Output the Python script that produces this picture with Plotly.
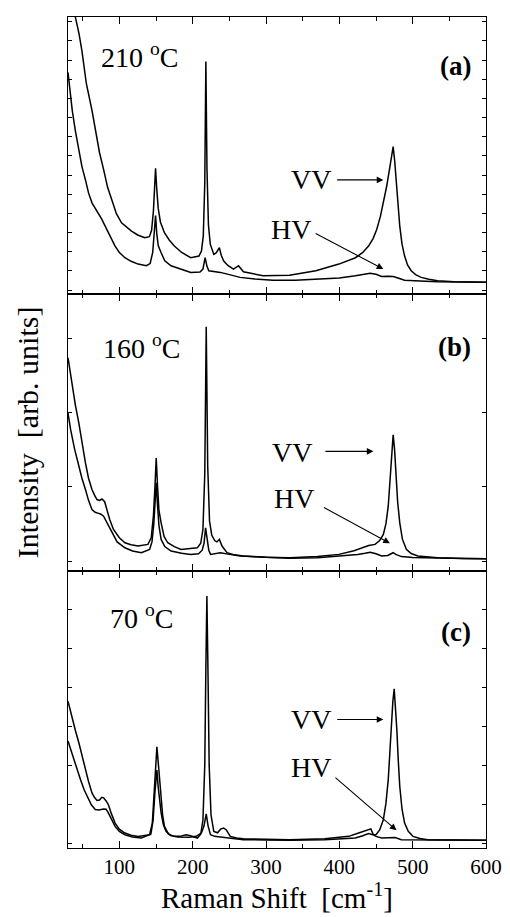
import plotly.graph_objects as go
from plotly.subplots import make_subplots

# ---------------- data (intensity in % of panel height) ----------------
# Panel (a) 210 C
x_a_vv = [30, 35, 40, 45, 49, 55, 62.7, 69.5, 73, 78.5, 84, 89.7, 96, 103, 110, 116.6, 125, 134.6, 141,
          144, 146.5, 148, 149.4, 151, 153, 156, 161.5, 168, 175, 185, 197.4, 208.6, 212, 214.5, 216.5,
          218, 219.5, 221.5, 224, 228.8, 232, 236.4, 239, 242.3, 248, 255.7, 262.5, 269.2, 280, 296,
          332, 368, 399.4, 422, 432, 439.8, 446, 451, 456, 460, 464.5, 469, 471.5, 473.4, 475.5, 477.9,
          480, 482.4, 485.5, 489, 493, 498, 504, 511.6, 522, 534, 556.5, 580, 600]
y_a_vv = [140, 125, 100, 94, 87.8, 76, 66.3, 56, 51, 45, 38.5, 34, 29, 25.7, 24, 22.7, 21.3, 20.3, 20.7,
          23, 30, 38, 45.4, 38, 31, 26, 22.1, 19.5, 17.3, 15, 13.1, 13.7, 15.5, 21, 40,
          83.9, 45, 25, 18, 14.3, 14.8, 16.7, 14, 11.9, 10.3, 9, 10.2, 8, 7.4, 6.6,
          6.8, 8.4, 10.8, 13.1, 15, 17.3, 20, 23.3, 28, 32.9, 38.8, 46, 50.5, 53.2, 48, 38.8,
          31, 24.5, 18, 13.7, 10.5, 8.4, 7, 6, 5.3, 4.8, 4.4, 4.3, 4.2]

x_a_hv = [30, 35.8, 40, 44.8, 49, 53.8, 58, 62.7, 67, 71.7, 76, 80.7, 87, 94.2, 100, 107.6, 116, 125.6,
          136.8, 142, 145.5, 147.5, 149.4, 151, 153, 157, 162, 170.5, 185, 197.4, 210, 214, 217,
          219.5, 222, 228, 237.8, 250, 264.7, 285, 309.6, 340, 377, 400, 422, 432, 442, 450, 457.7,
          466, 473.4, 480, 489, 510, 534, 570, 600]
y_a_hv = [80, 66.3, 59, 52, 46, 41.2, 36.5, 32.9, 31, 29.3, 27, 24.5, 21, 17.3, 15, 13.1, 11.8, 10.8,
          10.2, 11, 15, 21, 28.3, 22, 17.5, 14.9, 12, 10.2, 8.8, 7.8, 7.9, 9, 13.1,
          10, 8.4, 8.2, 7.8, 7, 6, 5.4, 5, 5, 5.4, 5.8, 6.6, 7.1, 7.5, 7.1, 6.3,
          6.4, 6.3, 5.8, 5, 4.7, 4.4, 4.3, 4.2]

# Panel (b) 160 C
x_b_vv = [30, 35.8, 40, 44.8, 49, 53.8, 58, 62.7, 66, 69.5, 73, 76.3, 80, 83, 87, 92, 100, 107.6, 116,
          125.6, 139, 143.5, 146.5, 148.5, 150.3, 152, 154, 157, 161, 166, 175, 184, 195, 206.4, 211,
          214, 216.5, 218.5, 220.5, 223, 226, 230, 233, 236.4, 240, 246.8, 255, 269, 300, 332, 370,
          399.4, 420, 431, 440, 448.7, 455, 460, 463.5, 466.7, 470.3, 473.4, 475.3, 477, 479.5, 482.4,
          486, 491.4, 498, 507, 520, 534, 570, 600]
y_b_vv = [77, 66.6, 60, 53.4, 46, 39, 33.5, 29.4, 27.5, 25.8, 25.5, 26, 25, 22.2, 18.5, 15, 12, 10.2, 9.5,
          9, 9.6, 12, 20, 30, 40.8, 31, 22, 17.4, 12.5, 10.2, 8.8, 7.8, 8, 8.4, 10,
          15, 35, 88.2, 38, 18, 13, 11, 10.5, 11.4, 9, 6.6, 6, 5.4, 5, 4.8, 5.2,
          6, 7.3, 8.4, 9.2, 9.6, 11, 13.2, 17, 23.4, 39, 49.2, 44, 34.2, 25, 17.4,
          11.5, 7.8, 6.3, 5.4, 5, 4.8, 4.5, 4.4]

x_b_hv = [30, 33.6, 39, 44.8, 49, 53.8, 58, 62.7, 67, 71.7, 75, 78.5, 84, 89.7, 97, 107.6, 118, 130,
          141.3, 144.5, 147, 148.8, 150.3, 152, 154, 157, 162, 170.5, 185, 197.4, 208, 213, 215.5,
          217.6, 219.8, 222, 224.3, 230, 237.8, 250, 264.7, 300, 332, 370, 399.4, 425, 435, 442,
          450, 457.7, 466, 470, 473.4, 477, 484.6, 500, 534, 570, 600]
y_b_hv = [57, 51, 44, 37.8, 33.5, 29.4, 25.5, 22.2, 21.2, 20.8, 20.5, 19.8, 17, 13.8, 10.5, 8.4, 7.2, 6.6,
          7.8, 10.5, 17, 25, 31.8, 24, 16.5, 11.4, 8.8, 7.2, 6.4, 6, 6.2, 7.5, 10,
          15.6, 11, 7.5, 6, 6.2, 6.6, 6, 5.4, 5, 4.6, 4.8, 5.4, 6, 6.4, 6.8,
          6.2, 5.4, 5.6, 6.2, 6.6, 6, 5.2, 4.9, 4.6, 4.5, 4.4]

# Panel (c) 70 C
x_c_vv = [30, 35.8, 40, 44.8, 49, 53.8, 58, 62.7, 66, 69.5, 73, 76, 78.5, 82, 85, 89, 94.2, 100, 107.6,
          116, 125.6, 141.3, 145, 147.5, 149.5, 151.2, 153, 155, 157, 159, 161.5, 167, 175, 183, 190.7,
          196, 206.4, 211, 214, 216.5, 218, 219.4, 220.8, 222.5, 225, 228.8, 234, 238, 242.3, 246,
          251.3, 260, 269.2, 300, 332, 380, 412.8, 426.3, 433, 439.8, 443, 446.5, 450, 455, 460,
          463.5, 466.7, 469, 471.2, 473, 474.8, 476.5, 478.4, 480.5, 482.4, 485.5, 489, 494, 500.4,
          510, 520.5, 560, 600]
y_c_vv = [53, 46.4, 42.5, 38, 33.5, 28.3, 24, 19.9, 18.3, 17.2, 17.3, 18.3, 18.1, 17, 15.7, 12.5, 9, 6.8, 5.4,
          4.6, 4.2, 4.8, 9, 20, 32, 36.5, 31, 24, 19.9, 12, 7.8, 5, 4.2, 4.2, 4.8,
          4.5, 3.6, 5, 10, 30, 65, 91, 65, 30, 12, 6, 5.5, 6.8, 7.2, 6.5,
          4.2, 3.6, 3.3, 3.1, 3, 3.3, 4.2, 5.4, 6, 6.6, 6.9, 4.8, 4.8, 6.5, 10.2,
          16, 24.7, 35, 46.4, 53, 57.5, 52, 42.8, 31, 22.3, 14, 9, 6, 4.2,
          3.4, 3, 2.9, 2.8]

x_c_hv = [30, 38, 42, 47, 52, 58.3, 62, 67.2, 72, 78.5, 82, 85, 89, 94.2, 100, 107.6, 118, 130,
          143, 146, 148.5, 151.2, 153, 155, 157, 160, 163.7, 170, 179.4, 195, 205, 212, 215.5, 218.5,
          221, 224.3, 230, 237.8, 250, 269.2, 300, 332, 380, 421.8, 432, 439.8, 446, 450, 457.7,
          466, 471.2, 476, 484.6, 520, 560, 600]
y_c_hv = [38.6, 31.9, 28, 24.7, 21, 17.5, 15.5, 13.9, 13.7, 14.1, 14, 12.7, 10.5, 7.8, 6, 4.8, 4, 3.6,
          5, 10, 20, 28.1, 22, 16, 12.7, 8.5, 6, 4.5, 4, 3.9, 4.2, 5.5, 8, 12.3,
          8, 4.8, 4.2, 4, 3.6, 3, 2.9, 2.8, 3, 3.6, 4.4, 5.2, 4.8, 4.2, 3.6,
          3.7, 4, 3.8, 3, 2.9, 2.8, 2.8]

x_range = [30, 600]
x_tick_vals = [100, 200, 300, 400, 500, 600]
x_minor_vals = [50, 150, 250, 350, 450, 550]
temps = ["210 <sup>o</sup>C", "160 <sup>o</sup>C", "70 <sup>o</sup>C"]
panel_tags = ["<b>(a)</b>", "<b>(b)</b>", "<b>(c)</b>"]

# ---------------- figure ----------------
FONT = "Liberation Serif, Times New Roman, serif"
fig = make_subplots(rows=3, cols=1, shared_xaxes=True, vertical_spacing=0)

series = [(x_a_vv, y_a_vv, x_a_hv, y_a_hv),
          (x_b_vv, y_b_vv, x_b_hv, y_b_hv),
          (x_c_vv, y_c_vv, x_c_hv, y_c_hv)]
for i, (xv, yv, xh, yh) in enumerate(series, start=1):
    fig.add_trace(go.Scatter(x=xv, y=yv, mode="lines", line=dict(color="black", width=1.5),
                             name="VV", showlegend=False), row=i, col=1)
    fig.add_trace(go.Scatter(x=xh, y=yh, mode="lines", line=dict(color="black", width=1.5),
                             name="HV", showlegend=False), row=i, col=1)

y_ticks = [(8.35, 6.92), (3.6, 26.8), (1.8, 14.05)]
for i in range(1, 4):
    fig.update_xaxes(range=x_range, showline=True, linecolor="black", linewidth=1.2, mirror="ticks",
                     ticks="inside", ticklen=7, tickwidth=1.2, tickcolor="black",
                     tickmode="array", tickvals=x_tick_vals,
                     minor=dict(ticks="inside", ticklen=4, tickwidth=1, tickcolor="black",
                                tickmode="array", tickvals=x_minor_vals),
                     showgrid=False, zeroline=False, showticklabels=(i == 3),
                     tickfont=dict(family=FONT, size=21, color="black"), row=i, col=1)
    t0, dt = y_ticks[i - 1]
    fig.update_yaxes(range=[0, 100], showline=True, linecolor="black", linewidth=1.2, mirror="ticks",
                     ticks="inside", ticklen=4, tickwidth=1, tickcolor="black",
                     tick0=t0, dtick=dt, showticklabels=False, showgrid=False, zeroline=False,
                     row=i, col=1)

ann = []
txt_pos = [((127, 86), (558, 82.4)), ((129.6, 80.9), (557, 80.9)), ((129.6, 83.4), (559, 77.8))]
vv_text = [(392, 41.2), (366, 42.7), (391, 46.4)]
hv_text = [(364, 23.3), (368, 26.2), (391, 29)]
vv_arrow = [((395, 41.2), (460, 41.2)), ((379, 43.2), (446.5, 43.2)), ((395, 46.4), (460, 46.4))]
hv_arrow = [((365.7, 22.1), (460, 9)), ((377, 23.2), (469, 10)), ((392.6, 25.9), (477.9, 6.4))]
for k in range(3):
    xr = "x" if k == 0 else f"x{k+1}"
    yr = "y" if k == 0 else f"y{k+1}"
    (tx, ty), (px, py) = txt_pos[k]
    ann.append(dict(x=tx, y=ty, xref=xr, yref=yr, text=temps[k], showarrow=False,
                    font=dict(family=FONT, size=28, color="black")))
    ann.append(dict(x=px, y=py, xref=xr, yref=yr, text=panel_tags[k], showarrow=False,
                    font=dict(family=FONT, size=27, color="black")))
    ann.append(dict(x=vv_text[k][0], y=vv_text[k][1], xref=xr, yref=yr, text="VV", showarrow=False,
                    xanchor="right", font=dict(family=FONT, size=28, color="black")))
    ann.append(dict(x=hv_text[k][0], y=hv_text[k][1], xref=xr, yref=yr, text="HV", showarrow=False,
                    xanchor="right", font=dict(family=FONT, size=28, color="black")))
    for (tail, head) in (vv_arrow[k], hv_arrow[k]):
        ann.append(dict(x=head[0], y=head[1], ax=tail[0], ay=tail[1], xref=xr, yref=yr,
                        axref=xr, ayref=yr, text="", showarrow=True, arrowhead=2,
                        arrowsize=1.2, arrowwidth=1.1, arrowcolor="black"))

ann.append(dict(x=-0.0965, y=0.5, xref="paper", yref="paper", text="Intensity  [arb. units]",
                textangle=-90, showarrow=False, xanchor="center", yanchor="middle",
                font=dict(family=FONT, size=30, color="black")))
ann.append(dict(x=0.5, y=-0.058, xref="paper", yref="paper", text="Raman Shift  [cm<sup>-1</sup>]",
                showarrow=False, xanchor="center", yanchor="middle",
                font=dict(family=FONT, size=29, color="black")))

# page body adds an 8 px offset, so the figure is sized to end at the window edge
fig.update_layout(width=502, height=909, margin=dict(l=60, r=17, t=8, b=69),
                  paper_bgcolor="white", plot_bgcolor="white", annotations=ann)

fig.write_html("out.html")
